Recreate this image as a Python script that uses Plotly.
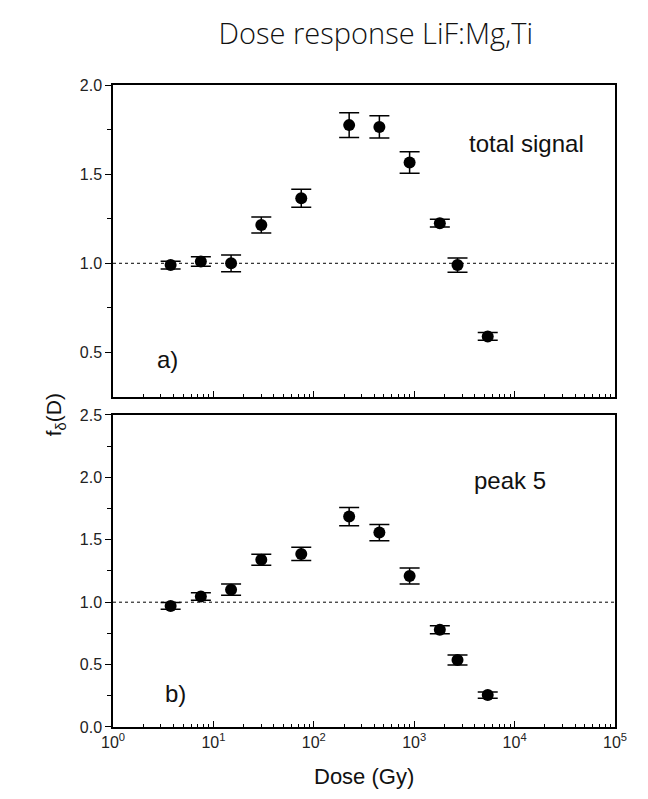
import plotly.graph_objects as go

# ---- data ----
dose = [3.75, 7.5, 15, 30, 75, 225, 450, 900, 1800, 2700, 5400]
total_signal = [0.99, 1.01, 1.00, 1.215, 1.365, 1.775, 1.765, 1.565, 1.225, 0.99, 0.59]
total_err = [0.022, 0.027, 0.047, 0.045, 0.05, 0.07, 0.062, 0.06, 0.022, 0.04, 0.022]
peak5 = [0.97, 1.045, 1.10, 1.34, 1.387, 1.686, 1.558, 1.21, 0.78, 0.537, 0.256]
peak5_err = [0.027, 0.03, 0.045, 0.044, 0.053, 0.073, 0.065, 0.064, 0.032, 0.04, 0.025]

x_tickvals = [1, 10, 100, 1000, 10000, 100000]
x_ticktext = ["10<sup>0</sup>", "10<sup>1</sup>", "10<sup>2</sup>", "10<sup>3</sup>",
              "10<sup>4</sup>", "10<sup>5</sup>"]
y_top_ticks = [0.5, 1.0, 1.5, 2.0]
y_bot_ticks = [0.0, 0.5, 1.0, 1.5, 2.0, 2.5]

minor_x = [m * d for d in [1, 10, 100, 1000, 10000] for m in range(2, 10)]

FONT = "Liberation Sans, Arial, sans-serif"

fig = go.Figure()

marker = dict(color="black", size=12, symbol="circle")
fig.add_trace(go.Scatter(
    x=dose, y=total_signal, mode="markers", marker=marker,
    error_y=dict(type="data", array=total_err, color="black", thickness=1.5, width=10),
    xaxis="x2", yaxis="y2", showlegend=False))
fig.add_trace(go.Scatter(
    x=dose, y=peak5, mode="markers", marker=marker,
    error_y=dict(type="data", array=peak5_err, color="black", thickness=1.5, width=10),
    xaxis="x", yaxis="y", showlegend=False))

xcommon = dict(type="log", range=[0, 5], showline=True, linecolor="black", linewidth=1.5,
               mirror=True, showgrid=False, zeroline=False, ticks="inside", ticklen=6,
               tickcolor="black", tickwidth=1,
               tickvals=x_tickvals,
               minor=dict(tickvals=minor_x, ticks="inside", ticklen=3, tickcolor="black",
                          showgrid=False))
ycommon = dict(showline=True, linecolor="black", linewidth=1.5, mirror=True, showgrid=False,
               zeroline=False, ticks="outside", ticklen=6, tickcolor="black", tickwidth=1.2,
               tickformat=".1f", tickfont=dict(family=FONT, size=16, color="#222"))

fig.update_layout(
    width=648, height=799,
    margin=dict(l=113, r=33, t=85, b=72),
    paper_bgcolor="white", plot_bgcolor="white",
    title=dict(text="Dose response LiF:Mg,Ti", x=0.58, xanchor="center", y=0.958, yanchor="middle",
               font=dict(family="Open Sans", size=29, color="#111", weight=300)),
    xaxis=dict(**xcommon, domain=[0, 1], anchor="y",
               ticktext=x_ticktext, tickfont=dict(family=FONT, size=16, color="#222")),
    xaxis2=dict(**xcommon, domain=[0, 1], anchor="y2", matches="x", showticklabels=False),
    yaxis=dict(**ycommon, domain=[0, 0.486], range=[0, 2.5], tickvals=y_bot_ticks,
               minor=dict(tickvals=[0.25, 0.75, 1.25, 1.75, 2.25], ticks="outside", ticklen=4,
                          tickcolor="black")),
    yaxis2=dict(**ycommon, domain=[0.514, 1], range=[0.25, 2.0], tickvals=y_top_ticks,
                minor=dict(tickvals=[0.75, 1.25, 1.75], ticks="outside", ticklen=4,
                           tickcolor="black")),
)

# dotted reference lines at 1.0
for yref, xref in (("y", "x domain"), ("y2", "x2 domain")):
    fig.add_shape(type="line", xref=xref, yref=yref, x0=0, x1=1, y0=1, y1=1,
                  line=dict(color="black", width=1, dash="dot"), layer="below")

ann_font = dict(family=FONT, size=24, color="#111")
labels = [
    ("total signal", "x2 domain", "y2 domain", 0.824, 0.814),
    ("a)", "x2 domain", "y2 domain", 0.108, 0.119),
    ("peak 5", "x domain", "y domain", 0.79, 0.79),
    ("b)", "x domain", "y domain", 0.125, 0.106),
]
for txt, xr, yr, xx, yy in labels:
    fig.add_annotation(text=txt, xref=xr, yref=yr, x=xx, y=yy, xanchor="center",
                       yanchor="middle", showarrow=False, font=ann_font)
fig.add_annotation(text="Dose (Gy)", xref="paper", yref="paper", x=0.5, y=-0.077,
                   xanchor="center", yanchor="middle", showarrow=False,
                   font=dict(family=FONT, size=22, color="#111"))
fig.add_annotation(text="f<sub>δ</sub>(D)", xref="paper", yref="paper", x=-0.115, y=0.486,
                   xanchor="center", yanchor="middle", textangle=-90, showarrow=False,
                   font=dict(family=FONT, size=21, color="#111"))

fig.write_html("out.html")
